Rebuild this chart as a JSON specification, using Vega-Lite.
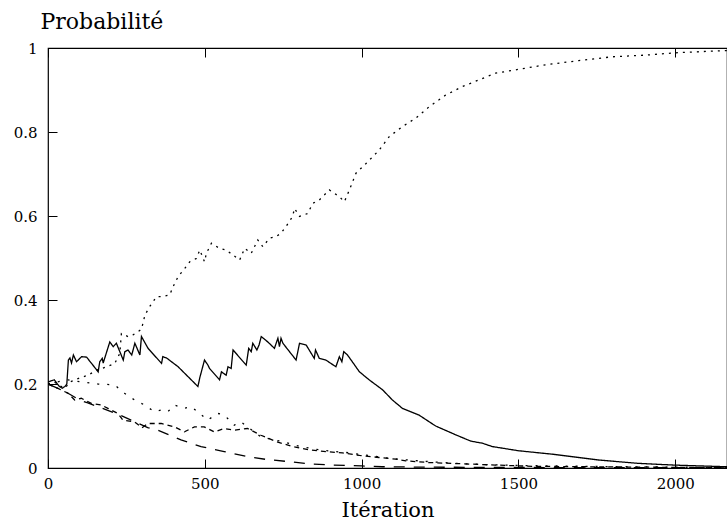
{
  "$schema": "https://vega.github.io/schema/vega-lite/v6.json",
  "width": 679,
  "height": 420,
  "autosize": {"type": "none"},
  "padding": {"left": 48, "top": 48, "right": 0, "bottom": 54},
  "background": "white",
  "config": {
    "view": {"stroke": "black", "strokeWidth": 1.2},
    "font": "DejaVu Serif"
  },
  "datasets": {
    "probs": [
      {"s":"a","x":0,"y":0.205},{"s":"a","x":20,"y":0.21},{"s":"a","x":35,"y":0.195},{"s":"a","x":45,"y":0.19},{"s":"a","x":54,"y":0.194},{"s":"a","x":60,"y":0.2},{"s":"a","x":65,"y":0.257},{"s":"a","x":70,"y":0.262},{"s":"a","x":75,"y":0.25},{"s":"a","x":81,"y":0.269},{"s":"a","x":91,"y":0.253},{"s":"a","x":107,"y":0.265},{"s":"a","x":123,"y":0.264},{"s":"a","x":160,"y":0.229},{"s":"a","x":165,"y":0.253},{"s":"a","x":173,"y":0.261},{"s":"a","x":176,"y":0.25},{"s":"a","x":197,"y":0.3},{"s":"a","x":208,"y":0.289},{"s":"a","x":218,"y":0.297},{"s":"a","x":240,"y":0.257},{"s":"a","x":245,"y":0.277},{"s":"a","x":255,"y":0.281},{"s":"a","x":267,"y":0.269},{"s":"a","x":277,"y":0.297},{"s":"a","x":293,"y":0.269},{"s":"a","x":298,"y":0.313},{"s":"a","x":319,"y":0.285},{"s":"a","x":362,"y":0.249},{"s":"a","x":366,"y":0.265},{"s":"a","x":378,"y":0.262},{"s":"a","x":415,"y":0.241},{"s":"a","x":478,"y":0.194},{"s":"a","x":484,"y":0.215},{"s":"a","x":499,"y":0.257},{"s":"a","x":510,"y":0.245},{"s":"a","x":515,"y":0.237},{"s":"a","x":547,"y":0.21},{"s":"a","x":553,"y":0.229},{"s":"a","x":568,"y":0.221},{"s":"a","x":574,"y":0.241},{"s":"a","x":584,"y":0.237},{"s":"a","x":590,"y":0.281},{"s":"a","x":632,"y":0.245},{"s":"a","x":640,"y":0.285},{"s":"a","x":648,"y":0.277},{"s":"a","x":653,"y":0.297},{"s":"a","x":666,"y":0.281},{"s":"a","x":673,"y":0.293},{"s":"a","x":680,"y":0.313},{"s":"a","x":701,"y":0.3},{"s":"a","x":722,"y":0.285},{"s":"a","x":733,"y":0.309},{"s":"a","x":738,"y":0.289},{"s":"a","x":743,"y":0.309},{"s":"a","x":749,"y":0.297},{"s":"a","x":791,"y":0.257},{"s":"a","x":802,"y":0.297},{"s":"a","x":823,"y":0.293},{"s":"a","x":849,"y":0.261},{"s":"a","x":853,"y":0.281},{"s":"a","x":865,"y":0.261},{"s":"a","x":886,"y":0.257},{"s":"a","x":918,"y":0.241},{"s":"a","x":929,"y":0.265},{"s":"a","x":937,"y":0.253},{"s":"a","x":943,"y":0.277},{"s":"a","x":955,"y":0.269},{"s":"a","x":993,"y":0.229},{"s":"a","x":1024,"y":0.21},{"s":"a","x":1067,"y":0.186},{"s":"a","x":1098,"y":0.162},{"s":"a","x":1130,"y":0.142},{"s":"a","x":1183,"y":0.126},{"s":"a","x":1236,"y":0.1},{"s":"a","x":1300,"y":0.079},{"s":"a","x":1348,"y":0.064},{"s":"a","x":1385,"y":0.059},{"s":"a","x":1417,"y":0.051},{"s":"a","x":1501,"y":0.041},{"s":"a","x":1607,"y":0.033},{"s":"a","x":1692,"y":0.025},{"s":"a","x":1756,"y":0.019},{"s":"a","x":1883,"y":0.011},{"s":"a","x":1994,"y":0.007},{"s":"a","x":2165,"y":0.003},
      {"s":"b","x":0,"y":0.2},{"s":"b","x":20,"y":0.205},{"s":"b","x":40,"y":0.195},{"s":"b","x":54,"y":0.19},{"s":"b","x":70,"y":0.205},{"s":"b","x":96,"y":0.213},{"s":"b","x":128,"y":0.221},{"s":"b","x":155,"y":0.233},{"s":"b","x":187,"y":0.241},{"s":"b","x":213,"y":0.249},{"s":"b","x":229,"y":0.273},{"s":"b","x":234,"y":0.32},{"s":"b","x":255,"y":0.313},{"s":"b","x":271,"y":0.317},{"s":"b","x":298,"y":0.33},{"s":"b","x":309,"y":0.364},{"s":"b","x":324,"y":0.384},{"s":"b","x":346,"y":0.408},{"s":"b","x":362,"y":0.408},{"s":"b","x":388,"y":0.412},{"s":"b","x":399,"y":0.432},{"s":"b","x":415,"y":0.456},{"s":"b","x":436,"y":0.475},{"s":"b","x":452,"y":0.491},{"s":"b","x":473,"y":0.499},{"s":"b","x":484,"y":0.519},{"s":"b","x":499,"y":0.491},{"s":"b","x":505,"y":0.511},{"s":"b","x":521,"y":0.535},{"s":"b","x":547,"y":0.523},{"s":"b","x":568,"y":0.519},{"s":"b","x":590,"y":0.507},{"s":"b","x":611,"y":0.495},{"s":"b","x":627,"y":0.523},{"s":"b","x":648,"y":0.511},{"s":"b","x":669,"y":0.543},{"s":"b","x":685,"y":0.527},{"s":"b","x":706,"y":0.547},{"s":"b","x":727,"y":0.551},{"s":"b","x":743,"y":0.559},{"s":"b","x":759,"y":0.575},{"s":"b","x":780,"y":0.599},{"s":"b","x":786,"y":0.618},{"s":"b","x":802,"y":0.599},{"s":"b","x":828,"y":0.606},{"s":"b","x":844,"y":0.63},{"s":"b","x":865,"y":0.638},{"s":"b","x":897,"y":0.662},{"s":"b","x":929,"y":0.646},{"s":"b","x":945,"y":0.634},{"s":"b","x":961,"y":0.662},{"s":"b","x":982,"y":0.702},{"s":"b","x":1014,"y":0.725},{"s":"b","x":1056,"y":0.757},{"s":"b","x":1088,"y":0.789},{"s":"b","x":1130,"y":0.813},{"s":"b","x":1173,"y":0.833},{"s":"b","x":1215,"y":0.86},{"s":"b","x":1268,"y":0.888},{"s":"b","x":1321,"y":0.908},{"s":"b","x":1374,"y":0.924},{"s":"b","x":1427,"y":0.94},{"s":"b","x":1491,"y":0.948},{"s":"b","x":1586,"y":0.96},{"s":"b","x":1692,"y":0.97},{"s":"b","x":1798,"y":0.979},{"s":"b","x":1904,"y":0.983},{"s":"b","x":2010,"y":0.989},{"s":"b","x":2165,"y":0.994},
      {"s":"c","x":0,"y":0.2},{"s":"c","x":30,"y":0.205},{"s":"c","x":64,"y":0.21},{"s":"c","x":106,"y":0.205},{"s":"c","x":159,"y":0.2},{"s":"c","x":212,"y":0.198},{"s":"c","x":244,"y":0.178},{"s":"c","x":276,"y":0.162},{"s":"c","x":308,"y":0.15},{"s":"c","x":339,"y":0.134},{"s":"c","x":361,"y":0.138},{"s":"c","x":382,"y":0.134},{"s":"c","x":403,"y":0.15},{"s":"c","x":435,"y":0.142},{"s":"c","x":456,"y":0.146},{"s":"c","x":477,"y":0.134},{"s":"c","x":509,"y":0.114},{"s":"c","x":541,"y":0.13},{"s":"c","x":562,"y":0.126},{"s":"c","x":594,"y":0.102},{"s":"c","x":615,"y":0.11},{"s":"c","x":636,"y":0.098},{"s":"c","x":679,"y":0.074},{"s":"c","x":721,"y":0.067},{"s":"c","x":753,"y":0.062},{"s":"c","x":800,"y":0.052},{"s":"c","x":850,"y":0.045},{"s":"c","x":900,"y":0.04},{"s":"c","x":950,"y":0.037},{"s":"c","x":1000,"y":0.032},{"s":"c","x":1050,"y":0.027},{"s":"c","x":1100,"y":0.022},{"s":"c","x":1200,"y":0.016},{"s":"c","x":1300,"y":0.011},{"s":"c","x":1400,"y":0.008},{"s":"c","x":1500,"y":0.006},{"s":"c","x":1700,"y":0.004},{"s":"c","x":2000,"y":0.002},{"s":"c","x":2165,"y":0.001},
      {"s":"d","x":0,"y":0.2},{"s":"d","x":30,"y":0.19},{"s":"d","x":64,"y":0.178},{"s":"d","x":85,"y":0.162},{"s":"d","x":106,"y":0.166},{"s":"d","x":138,"y":0.154},{"s":"d","x":170,"y":0.15},{"s":"d","x":191,"y":0.142},{"s":"d","x":223,"y":0.13},{"s":"d","x":239,"y":0.114},{"s":"d","x":276,"y":0.11},{"s":"d","x":300,"y":0.096},{"s":"d","x":318,"y":0.106},{"s":"d","x":361,"y":0.106},{"s":"d","x":403,"y":0.098},{"s":"d","x":435,"y":0.086},{"s":"d","x":467,"y":0.098},{"s":"d","x":498,"y":0.098},{"s":"d","x":530,"y":0.086},{"s":"d","x":562,"y":0.094},{"s":"d","x":594,"y":0.09},{"s":"d","x":636,"y":0.094},{"s":"d","x":679,"y":0.078},{"s":"d","x":727,"y":0.063},{"s":"d","x":780,"y":0.051},{"s":"d","x":833,"y":0.043},{"s":"d","x":886,"y":0.039},{"s":"d","x":939,"y":0.036},{"s":"d","x":993,"y":0.03},{"s":"d","x":1056,"y":0.025},{"s":"d","x":1109,"y":0.021},{"s":"d","x":1141,"y":0.017},{"s":"d","x":1215,"y":0.013},{"s":"d","x":1321,"y":0.01},{"s":"d","x":1427,"y":0.007},{"s":"d","x":1544,"y":0.004},{"s":"d","x":1700,"y":0.003},{"s":"d","x":2000,"y":0.0015},{"s":"d","x":2165,"y":0.001},
      {"s":"e","x":0,"y":0.2},{"s":"e","x":30,"y":0.19},{"s":"e","x":64,"y":0.178},{"s":"e","x":100,"y":0.162},{"s":"e","x":127,"y":0.155},{"s":"e","x":170,"y":0.143},{"s":"e","x":223,"y":0.128},{"s":"e","x":265,"y":0.114},{"s":"e","x":318,"y":0.096},{"s":"e","x":350,"y":0.09},{"s":"e","x":424,"y":0.067},{"s":"e","x":488,"y":0.051},{"s":"e","x":562,"y":0.039},{"s":"e","x":636,"y":0.027},{"s":"e","x":700,"y":0.02},{"s":"e","x":770,"y":0.015},{"s":"e","x":834,"y":0.0095},{"s":"e","x":907,"y":0.007},{"s":"e","x":1000,"y":0.005},{"s":"e","x":1066,"y":0.003},{"s":"e","x":1200,"y":0.002},{"s":"e","x":1500,"y":0.0012},{"s":"e","x":2165,"y":0.0005}
    ]
  },
  "data": {"name": "probs"},
  "resolve": {"axis": {"x": "independent", "y": "independent"}},
  "layer": [
    {
      "mark": {"type": "line", "color": "black", "strokeWidth": 1.3, "clip": true},
      "encoding": {
        "x": {"field": "x", "type": "quantitative", "scale": {"domain": [0, 2165], "nice": false, "zero": false},
          "axis": {"orient": "bottom", "values": [0, 500, 1000, 1500, 2000], "format": "d", "grid": false, "domain": false, "ticks": true, "tickSize": -9, "tickColor": "black", "tickWidth": 1, "offset": 0, "labelPadding": 17, "labelFont": "DejaVu Serif", "labelColor": "black", "labelFontSize": 15, "labelFlush": false, "title": "Itération", "titleFont": "DejaVu Serif", "titleColor": "black", "titleFontWeight": "normal", "titleFontSize": 21, "titleBaseline": "alphabetic", "titleY": 48}},
        "y": {"field": "y", "type": "quantitative", "scale": {"domain": [0, 1], "nice": false},
          "axis": {"orient": "left", "values": [0, 0.2, 0.4, 0.6, 0.8, 1], "format": ".1~f", "grid": false, "domain": false, "ticks": true, "tickSize": -9, "tickColor": "black", "tickWidth": 1, "offset": 0, "labelPadding": 20, "labelFont": "DejaVu Serif", "labelColor": "black", "labelFontSize": 15, "labelFlush": false, "title": "Probabilité", "titleFont": "DejaVu Serif", "titleColor": "black", "titleFontWeight": "normal", "titleFontSize": 22, "titleAngle": 0, "titleAlign": "left", "titleBaseline": "alphabetic", "titleX": -8, "titleY": -20}},
        "strokeDash": {"field": "s", "type": "nominal", "legend": null,
          "scale": {"domain": ["a", "b", "c", "d", "e"], "range": [[1, 0], [2, 5], [2, 8], [5, 4], [11, 9]]}},
        "order": {"field": "x", "type": "quantitative"}
      }
    },
    {
      "mark": {"type": "line", "opacity": 0},
      "encoding": {
        "x": {"field": "x", "type": "quantitative", "axis": {"orient": "top", "values": [0, 500, 1000, 1500, 2000], "grid": false, "domain": false, "ticks": true, "tickSize": -9, "tickColor": "black", "tickWidth": 1, "labels": false, "title": null}},
        "y": {"field": "y", "type": "quantitative", "axis": {"orient": "right", "labels": false, "ticks": false, "grid": false, "domain": false, "title": null}},
        "detail": {"field": "s", "type": "nominal"}
      }
    }
  ]
}
